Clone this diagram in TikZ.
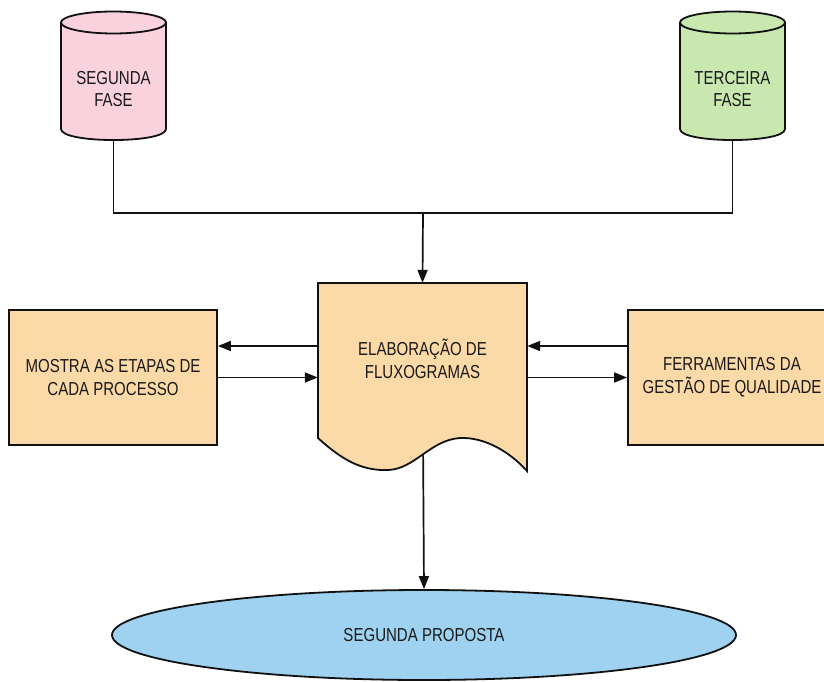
\documentclass[tikz,border=0pt]{standalone}
\usepackage{fontspec}
\usetikzlibrary{arrows.meta,shapes.geometric}
\newfontfamily\labelfamily[FakeStretch=0.80]{Liberation Sans}
\newcommand\labelfont{\labelfamily\fontsize{18.8}{22.6}\selectfont}
\definecolor{linec}{HTML}{111111}
\definecolor{txtc}{HTML}{1A1A1A}
\definecolor{pinkc}{HTML}{FAD2DE}
\definecolor{greenc}{HTML}{C8E8B0}
\definecolor{peachc}{HTML}{FCDAA8}
\definecolor{bluec}{HTML}{9ED2F0}
\tikzset{
  outline/.style={line width=1.8pt, draw=linec},
  lbl/.style={font=\labelfont, align=center, text=txtc, inner sep=0pt},
  holder/.style={draw=none, inner sep=0pt},
  conn/.style={line width=1.7pt, draw=linec},
  arr/.style={conn, -{Triangle[length=13pt,width=10pt]}},
  procbox/.style={outline, fill=peachc, lbl, minimum width=208pt, minimum height=135pt},
}
\begin{document}
\begin{tikzpicture}[x=1pt,y=-1pt]
\useasboundingbox (0,0) rectangle (824,682);
\clip (0,0) rectangle (824,682);

% invisible holders for the cylinders and the document shape
\node[holder, minimum width=105pt, minimum height=118pt] (seg) at (113.5,81) {};
\node[holder, minimum width=105pt, minimum height=118pt] (ter) at (732.5,81) {};
\node[holder, minimum width=209pt, minimum height=155pt] (doc) at (422.5,360.5) {};
\coordinate (join) at (423,213);

% process boxes and terminal
\node[procbox] (mostra) at (113,377.5) {MOSTRA AS ETAPAS DE\\CADA PROCESSO};
\node[procbox] (ferr) at (732,377.5) {FERRAMENTAS DA\\GESTÃO DE QUALIDADE};
\node[outline, ellipse, fill=bluec, lbl, minimum width=624pt, minimum height=90pt] (prop) at (424,635) {SEGUNDA PROPOSTA};

% connectors (drawn first so the shapes cover their ends)
\draw[conn] (seg.south) |- (join) -| (ter.south);
\draw[arr] (join) -- (doc.north);
\draw[arr] ([yshift=31.5pt]mostra.east -| doc.west) -- ([yshift=31.5pt]mostra.east);
\draw[arr] (mostra.east) -- (mostra.east -| doc.west);
\draw[arr] ([yshift=31.5pt]ferr.west) -- ([yshift=31.5pt]ferr.west -| doc.east);
\draw[arr] (ferr.west -| doc.east) -- (ferr.west);
\draw[arr] (doc.center) -- (prop.north);

% cylinder: SEGUNDA FASE
\fill[pinkc] (61,22) -- (61,129) .. controls (61,143.7) and (166,143.7) .. (166,129) -- (166,22) -- cycle;
\draw[outline] (61,22) -- (61,129) .. controls (61,143.7) and (166,143.7) .. (166,129) -- (166,22);
\draw[outline, fill=pinkc] (113.5,22.5) ellipse [x radius=52.5, y radius=11];
\node[lbl] (segtxt) at (113.5,89) {SEGUNDA\\FASE};

% cylinder: TERCEIRA FASE
\fill[greenc] (680,22) -- (680,129) .. controls (680,143.7) and (785,143.7) .. (785,129) -- (785,22) -- cycle;
\draw[outline] (680,22) -- (680,129) .. controls (680,143.7) and (785,143.7) .. (785,129) -- (785,22);
\draw[outline, fill=greenc] (732.5,22.5) ellipse [x radius=52.5, y radius=11];
\node[lbl] (tertxt) at (732.5,89) {TERCEIRA\\FASE};

% document shape with wavy bottom
\draw[outline, fill=peachc] (318,283) -- (527,283) -- (527,471)
  .. controls (510,452) and (485,437) .. (460,438)
  .. controls (430,440) and (415,469) .. (388,470)
  .. controls (362,471) and (342,460) .. (318,438) -- cycle;
\node[lbl] (doctxt) at (422.5,359) {ELABORAÇÃO DE\\FLUXOGRAMAS};
\end{tikzpicture}
\end{document}
